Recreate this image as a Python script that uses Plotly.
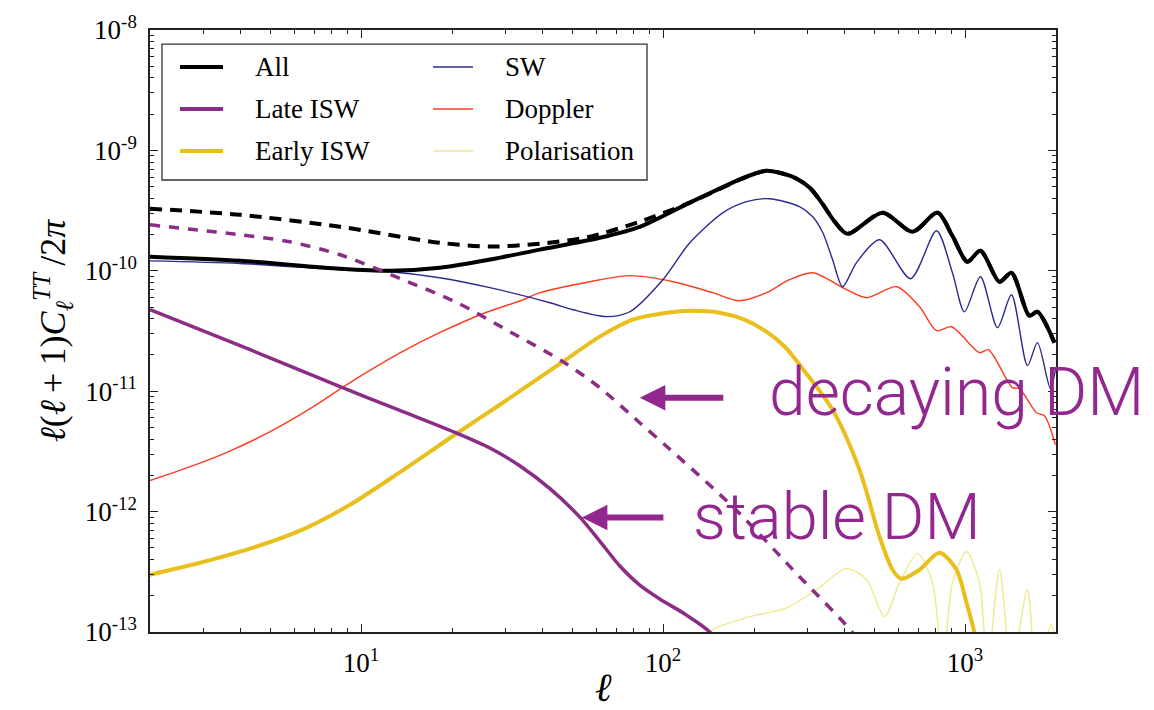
import numpy as np
import plotly.graph_objects as go

# ---------------------------------------------------------------------------
# CMB temperature power spectrum l(l+1)C_l/2pi, split into its contributions.
# Solid curves: stable dark matter; dashed curves: decaying dark matter.
# ---------------------------------------------------------------------------

# Total spectrum (stable DM)
all_ell = [2, 3.98, 8.52, 12.5, 18.2, 26.7, 39.1, 61.7, 83.7, 122.6, 179, 201, 220,
           243, 273, 306, 335, 370, 408, 533, 670, 810, 908, 1018, 1124, 1300,
           1424, 1633, 1736, 1976]
all_cl = [1.31e-10, 1.21e-10, 1.04e-10, 1.00e-10, 1.06e-10, 1.24e-10, 1.50e-10,
          1.88e-10, 2.32e-10, 3.68e-10, 5.71e-10, 6.40e-10, 6.78e-10, 6.53e-10,
          5.93e-10, 4.90e-10, 3.68e-10, 2.56e-10, 2.03e-10, 3.04e-10, 2.11e-10,
          3.04e-10, 1.95e-10, 1.19e-10, 1.47e-10, 8.12e-11, 9.64e-11, 4.24e-11,
          4.57e-11, 2.53e-11]

# Total spectrum (decaying DM): differs only at low multipoles
all_decay_ell = [2, 3.98, 8.52, 18.2, 26.7, 39.1, 57.2, 83.7]
all_decay_cl = [3.28e-10, 2.92e-10, 2.32e-10, 1.71e-10, 1.59e-10, 1.68e-10,
                1.92e-10, 2.56e-10]

# Late ISW (stable DM)
late_ell = [2, 4.29, 8.52, 13.5, 20.9, 26.7, 33.6, 42.2, 53.0, 61.7, 71.9, 83.7,
            97.5, 118, 142.7, 166]
late_cl = [4.75e-11, 2.21e-11, 1.09e-11, 6.89e-12, 4.44e-12, 3.37e-12, 2.39e-12,
           1.55e-12, 9.00e-13, 5.69e-13, 3.53e-13, 2.45e-13, 1.88e-13, 1.41e-13,
           1.0e-13, 6.0e-14]

# Late ISW (decaying DM)
late_decay_ell = [2, 3.98, 5.82, 8.52, 13.5, 20.8, 31.1, 46.6, 61.7, 83.7, 103,
                  170, 283, 424, 483]
late_decay_cl = [2.41e-10, 1.99e-10, 1.74e-10, 1.36e-10, 8.60e-11, 5.43e-11,
                 3.12e-11, 1.76e-11, 1.07e-11, 5.47e-12, 3.46e-12, 1.10e-12,
                 2.88e-13, 9.87e-14, 6.0e-14]

# Early ISW
early_ell = [2, 2.93, 4.29, 6.28, 9.19, 13.5, 20.9, 28.8, 46.6, 61.7, 79.4, 103,
             125, 154, 186, 220, 253, 283, 364, 447, 521, 575, 616, 707, 823, 937,
             1011, 1074, 1150]
early_cl = [2.99e-13, 3.76e-13, 4.92e-13, 6.94e-13, 1.14e-12, 2.14e-12, 4.52e-12,
            7.72e-12, 1.76e-11, 2.84e-11, 3.93e-11, 4.49e-11, 4.66e-11, 4.49e-11,
            3.93e-11, 3.12e-11, 2.34e-11, 1.66e-11, 7.02e-12, 2.23e-12, 6.19e-13,
            3.29e-13, 2.77e-13, 3.29e-13, 4.56e-13, 3.29e-13, 1.75e-13, 9.87e-14,
            4.0e-14]

# Sachs-Wolfe
sw_ell = [2, 3.98, 8.52, 12.5, 18.2, 26.7, 42.2, 50.3, 65.1, 77.6, 99.8, 122.6,
          158, 189, 225, 283, 313, 338, 364, 393, 437, 521, 660, 804, 908, 995,
          1124, 1280, 1424, 1609, 1736, 1917, 1991]
sw_cl = [1.21e-10, 1.15e-10, 1.02e-10, 9.83e-11, 8.76e-11, 7.24e-11, 5.43e-11,
         4.75e-11, 4.16e-11, 4.57e-11, 8.43e-11, 1.71e-10, 3.04e-10, 3.75e-10,
         3.97e-10, 3.41e-10, 2.81e-10, 2.07e-10, 1.24e-10, 7.38e-11, 1.17e-10,
         1.81e-10, 8.60e-11, 2.15e-10, 9.64e-11, 4.57e-11, 8.93e-11, 3.37e-11,
         6.33e-11, 1.63e-11, 2.53e-11, 1.05e-11, 1.51e-11]

# Doppler
dop_ell = [2, 2.72, 3.69, 5.00, 6.78, 9.19, 13.5, 18.2, 25.3, 34.4, 39.1, 57.2,
           77.6, 108, 146, 179, 220, 262, 313, 405, 472, 593, 707, 804, 902, 1116,
           1195, 1435, 1513, 1723, 1831, 1991]
dop_cl = [1.81e-12, 2.36e-12, 3.20e-12, 4.61e-12, 7.16e-12, 1.18e-11, 2.09e-11,
          3.06e-11, 4.40e-11, 5.75e-11, 6.58e-11, 8.12e-11, 9.11e-11, 8.12e-11,
          6.58e-11, 5.64e-11, 6.58e-11, 8.43e-11, 9.64e-11, 6.97e-11, 5.98e-11,
          7.38e-11, 5.03e-11, 3.18e-11, 3.43e-11, 2.09e-11, 2.21e-11, 1.07e-11,
          1.05e-11, 6.63e-12, 6.26e-12, 3.59e-12]

# Polarisation
pol_ell = [132, 142.7, 194, 257, 322, 405, 472, 541, 607, 696, 780, 842, 908,
           1011, 1116, 1186, 1300, 1424, 1609, 1723, 1931, 1991]
pol_cl = [6.0e-14, 1.0e-13, 1.34e-13, 1.59e-13, 2.25e-13, 3.36e-13, 2.72e-13,
          1.34e-13, 2.57e-13, 4.48e-13, 2.57e-13, 5.0e-14, 2.57e-13, 4.64e-13,
          2.57e-13, 5.0e-14, 3.29e-13, 5.0e-14, 2.25e-13, 5.0e-14, 1.15e-13, 8.0e-14]

# Axis ticks
x_major = [10, 100, 1000]
x_major_text = ["10<sup>1</sup>", "10<sup>2</sup>", "10<sup>3</sup>"]
y_major = [1e-13, 1e-12, 1e-11, 1e-10, 1e-9, 1e-8]
y_major_text = ["10<sup>-13</sup>", "10<sup>-12</sup>", "10<sup>-11</sup>",
                "10<sup>-10</sup>", "10<sup>-9</sup>", "10<sup>-8</sup>"]

# Colours
C_ALL = "#000000"
C_LATE = "#8c2d85"
C_EARLY = "#e8bf1c"
C_SW = "#2b2b8c"
C_DOP = "#ff3b1f"
C_POL = "#eeea8e"
C_NOTE = "#92278f"

SERIF = "Liberation Serif, Times New Roman, DejaVu Serif, serif"
SANS = "Roboto, Liberation Sans, Arial, sans-serif"

fig = go.Figure()


def add_line(ell, cl, color, width, dash="solid", name=None):
    fig.add_trace(go.Scatter(
        x=ell, y=cl, mode="lines", name=name, showlegend=False,
        line=dict(color=color, width=width, dash=dash, shape="spline", smoothing=0.8),
        hoverinfo="skip"))


# decaying-DM total spectrum follows the stable one above l ~ 120
all_decay_full_ell = list(all_decay_ell) + [l for l in all_ell if l >= 122]
all_decay_full_cl = list(all_decay_cl) + [c for l, c in zip(all_ell, all_cl) if l >= 122]

add_line(pol_ell, pol_cl, C_POL, 1.4, name="Polarisation")
add_line(dop_ell, dop_cl, C_DOP, 1.4, name="Doppler")
add_line(sw_ell, sw_cl, C_SW, 1.4, name="SW")
add_line(early_ell, early_cl, C_EARLY, 4, name="Early ISW")
add_line(all_decay_full_ell, all_decay_full_cl, C_ALL, 4, dash="12px,8px")
add_line(all_ell, all_cl, C_ALL, 4, name="All")
add_line(late_ell, late_cl, C_LATE, 3.5, name="Late ISW")
add_line(late_decay_ell, late_decay_cl, C_LATE, 3.5, dash="10px,9px")

# minor ticks: 2..9 within each decade
x_minor = [k * 10 ** n for n in range(0, 4) for k in range(2, 10) if 2 <= k * 10 ** n <= 2000]
y_minor = [k * 10.0 ** n for n in range(-13, -8) for k in range(2, 10)]

axis_common = dict(
    type="log", showgrid=False, zeroline=False, showline=True, linecolor="#222",
    linewidth=1.5, mirror="ticks", ticks="inside", ticklen=8, tickwidth=1.2,
    tickcolor="#222", tickfont=dict(family=SERIF, size=27, color="black"),
)

fig.update_xaxes(
    **axis_common, range=[np.log10(2), np.log10(2000)],
    tickmode="array", tickvals=x_major, ticktext=x_major_text, ticklabelstandoff=6,
    minor=dict(tickmode="array", tickvals=x_minor, ticks="inside", ticklen=4,
               tickwidth=1, tickcolor="#222", showgrid=False),
    title=dict(text="<i>ℓ</i>", font=dict(family=SERIF, size=40, color="black"),
               standoff=4),
)
fig.update_yaxes(
    **axis_common, range=[-13, -8],
    tickmode="array", tickvals=y_major, ticktext=y_major_text, ticklabelstandoff=6,
    minor=dict(tickmode="array", tickvals=y_minor, ticks="inside", ticklen=4,
               tickwidth=1, tickcolor="#222", showgrid=False),
    title=dict(text="<i>ℓ</i>(<i>ℓ</i>\u2009+\u20091)<i>C</i><sub><i>ℓ</i></sub><sup><i>TT</i></sup>\u2009/2<i>π</i>",
               font=dict(family=SERIF, size=36, color="black"), standoff=8),
)

# --- legend box (two columns) ---------------------------------------------
fig.add_shape(type="rect", xref="paper", yref="paper", x0=0.0132, x1=0.5486,
              y0=0.7508, y1=0.9767, line=dict(color="#333", width=1.3),
              fillcolor="white", layer="above")

legend_items = [
    ("All", C_ALL, 4, 0), ("Late ISW", C_LATE, 4, 0), ("Early ISW", C_EARLY, 4, 0),
    ("SW", C_SW, 1.4, 1), ("Doppler", C_DOP, 1.4, 1), ("Polarisation", C_POL, 1.4, 1),
]
row_y = [0.9385, 0.8688, 0.7990]
col_x = [(0.0331, 0.0806, 0.1137), (0.3124, 0.3565, 0.3896)]
rows_used = [0, 0]
for label, color, width, col in legend_items:
    r = rows_used[col]
    rows_used[col] += 1
    x0, x1, xt = col_x[col]
    fig.add_shape(type="line", xref="paper", yref="paper", x0=x0, x1=x1,
                  y0=row_y[r], y1=row_y[r], line=dict(color=color, width=width),
                  layer="above")
    fig.add_annotation(xref="paper", yref="paper", x=xt, y=row_y[r], text=label,
                       showarrow=False, xanchor="left", yanchor="middle",
                       font=dict(family=SERIF, size=27, color="black"))

# --- DM labels with arrows ------------------------------------------------
fig.add_annotation(x=1.9229, y=-11.054, xref="x", yref="y", text="", showarrow=True,
                   ax=85, ay=0, arrowhead=2, arrowsize=0.85, arrowwidth=6,
                   arrowcolor=C_NOTE)
fig.add_annotation(x=1.7311, y=-12.05, xref="x", yref="y", text="", showarrow=True,
                   ax=83, ay=0, arrowhead=2, arrowsize=0.85, arrowwidth=6,
                   arrowcolor=C_NOTE)
fig.add_annotation(x=2.3430, y=-11.012, xref="x", yref="y", text="decaying DM",
                   showarrow=False, xanchor="left", yanchor="middle",
                   font=dict(family=SANS, size=66, color=C_NOTE, weight=300))
fig.add_annotation(x=2.0920, y=-12.042, xref="x", yref="y", text="stable DM",
                   showarrow=False, xanchor="left", yanchor="middle",
                   font=dict(family=SANS, size=65, color=C_NOTE, weight=300))

fig.update_layout(
    width=1154, height=710,
    margin=dict(l=150, r=98, t=30, b=78, autoexpand=False),
    paper_bgcolor="white", plot_bgcolor="white",
    showlegend=False,
)

fig.write_html("out.html")
